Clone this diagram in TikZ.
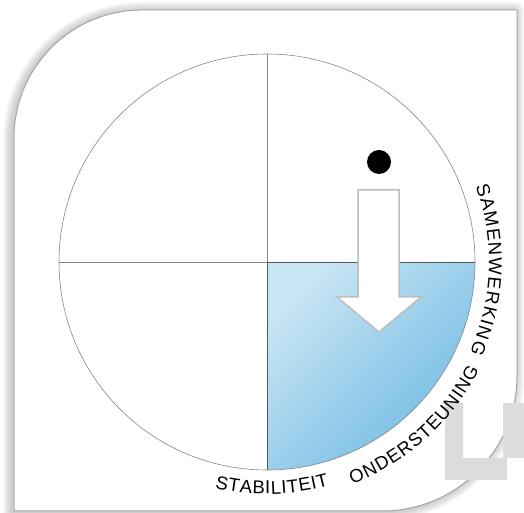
\documentclass[tikz,border=0pt]{standalone}
\usepackage{fontspec}
\setmainfont{Liberation Sans}
\usetikzlibrary{decorations.text}
\definecolor{rim}{RGB}{165,165,165}
\definecolor{wheel}{RGB}{135,135,135}
\definecolor{edge}{RGB}{78,90,100}
\definecolor{sky}{RGB}{200,229,244}
\definecolor{sea}{RGB}{112,186,226}
\definecolor{watergrey}{RGB}{220,220,220}
\definecolor{arrowline}{RGB}{190,190,190}
\newcommand{\arcfont}{\fontsize{18.5pt}{18.5pt}\selectfont}
\newcommand{\cardpath}{(14,2) -- (14,375) arc[start angle=180, end angle=90, radius=128]
  -- (517,503) -- (517,137) arc[start angle=0, end angle=-90, radius=135] -- cycle}

\begin{document}
\arcfont
\begin{tikzpicture}[x=1pt, y=1pt,
    card/.style={fill=white, draw=rim, line width=1pt},
    line/.style={draw=wheel, line width=0.6pt},
    dark/.style={draw=edge, line width=0.8pt},
    dot/.style={circle, fill=black, inner sep=0pt, minimum size=24pt},
    blockarrow/.style={fill=white, draw=arrowline, line width=1.5pt, line join=miter},
    arcword/.style={decorate, decoration={text along path, text align={fit to path},
        text={#1}}}
    ]
    \useasboundingbox (0,0) rectangle (524,513);

    % card with soft shadow
    \foreach \w in {2,4,...,18}
      \draw[black, opacity=0.022, line width=\w pt, line join=round, xshift=-2pt, yshift=-1pt] \cardpath;
    \draw[card] \cardpath;

    \coordinate (c) at (267,251);
    \coordinate (w) at (59,251);
    \coordinate (e) at (475,251);
    \coordinate (n) at (267,459);
    \coordinate (s) at (267,43);

    % blue quarter
    \shade[top color=sky, bottom color=sea, shading angle=45]
      (c) -- (e) arc[start angle=0, end angle=-90, radius=208] -- cycle;
    \draw[line] (c) circle[radius=208];
    \draw[line] (w) -- (c) -- (n);
    \draw[dark] (c) -- (e);
    \draw[dark] (c) -- (s);

    % watermark
    \fill[watergrey] (445,33) rectangle (463,110);
    \fill[watergrey] (445,33) rectangle (507,55);
    \fill[watergrey] (503,55) rectangle (524,110);

    \node[dot] (dot) at (379,351) {};
    \draw[blockarrow] (358,323) -- (399,323) -- (399,216) -- (421,216) -- (379,181)
      -- (337,216) -- (358,216) -- cycle;

    % labels round the wheel
    \path[arcword=STABILITEIT] (c) ++(-103:232) arc[start angle=-103, end angle=-74.5, radius=232];
    \path[arcword=ONDERSTEUNING] (c) ++(-69:238) arc[start angle=-69, end angle=-27, radius=238];
    \path[arcword=SAMENWERKING] (c) ++(20:222) arc[start angle=20, end angle=-24, radius=222];
\end{tikzpicture}
\end{document}
